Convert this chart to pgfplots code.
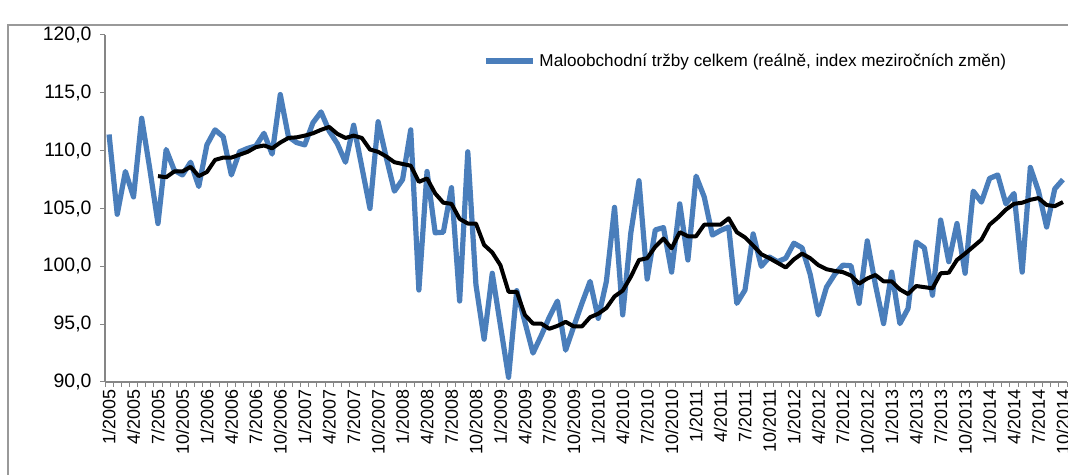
\documentclass[border=0pt]{standalone}
\usepackage{pgfplots}
\pgfplotsset{compat=1.18}
\usepackage{pgfplotstable}
\usepackage{fontspec}
\setmainfont{Liberation Sans}
\definecolor{serblue}{HTML}{4A7EBB}
\definecolor{axgray}{HTML}{868686}
\pgfplotstableread{
i v
0 111.4
1 104.5
2 108.2
3 106.0
4 112.8
5 108.4
6 103.7
7 110.1
8 108.3
9 107.9
10 109.0
11 106.9
12 110.5
13 111.8
14 111.2
15 107.9
16 109.9
17 110.2
18 110.4
19 111.5
20 109.7
21 114.85
22 111.2
23 110.7
24 110.5
25 112.4
26 113.35
27 111.7
28 110.6
29 109.0
30 112.2
31 108.6
32 105.0
33 112.5
34 109.4
35 106.5
36 107.5
37 111.8
38 97.95
39 108.2
40 102.9
41 102.95
42 106.8
43 97.0
44 109.9
45 98.4
46 93.7
47 99.4
48 94.9
49 90.4
50 97.9
51 95.2
52 92.5
53 94.0
54 95.6
55 97.0
56 92.75
57 94.8
58 96.8
59 98.7
60 95.5
61 98.7
62 105.1
63 95.8
64 102.9
65 107.4
66 98.9
67 103.15
68 103.35
69 99.5
70 105.4
71 100.55
72 107.8
73 106.0
74 102.7
75 103.1
76 103.4
77 96.8
78 97.95
79 102.8
80 100.0
81 100.8
82 100.4
83 100.7
84 102.0
85 101.6
86 99.3
87 95.8
88 98.2
89 99.3
90 100.1
91 100.05
92 96.8
93 102.2
94 98.4
95 95.05
96 99.5
97 95.05
98 96.35
99 102.1
100 101.6
101 97.5
102 104.0
103 100.4
104 103.7
105 99.4
106 106.5
107 105.55
108 107.6
109 107.9
110 105.4
111 106.3
112 99.5
113 108.55
114 106.5
115 103.4
116 106.7
117 107.5
}\blue
\pgfplotstableread{
i v
6 107.8
7 107.7
8 108.2
9 108.2
10 108.6
11 107.8
12 108.15
13 109.2
14 109.4
15 109.4
16 109.65
17 109.9
18 110.3
19 110.45
20 110.2
21 110.7
22 111.1
23 111.15
24 111.3
25 111.5
26 111.8
27 112.05
28 111.45
29 111.1
30 111.3
31 111.1
32 110.1
33 109.9
34 109.5
35 109.0
36 108.85
37 108.7
38 107.3
39 107.6
40 106.3
41 105.5
42 105.4
43 104.1
44 103.7
45 103.7
46 101.85
47 101.2
48 100.1
49 97.8
50 97.8
51 95.8
52 95.05
53 95.05
54 94.6
55 94.85
56 95.2
57 94.8
58 94.8
59 95.6
60 95.9
61 96.4
62 97.4
63 97.9
64 99.1
65 100.55
66 100.7
67 101.7
68 102.4
69 101.55
70 102.95
71 102.6
72 102.6
73 103.6
74 103.6
75 103.6
76 104.15
77 102.95
78 102.5
79 101.8
80 101.05
81 100.7
82 100.3
83 99.9
84 100.6
85 101.1
86 100.7
87 100.1
88 99.75
89 99.6
90 99.5
91 99.2
92 98.5
93 98.95
94 99.25
95 98.7
96 98.7
97 98.0
98 97.6
99 98.3
100 98.2
101 98.1
102 99.4
103 99.45
104 100.55
105 101.1
106 101.7
107 102.3
108 103.6
109 104.2
110 104.9
111 105.4
112 105.5
113 105.75
114 105.9
115 105.3
116 105.2
117 105.55
}\avg
\begin{document}
\begin{tikzpicture}[x=1bp,y=1bp]
\useasboundingbox (0,0) rectangle (1068,475);
\draw[color=black!40, line width=1.2bp] (8,0) -- (8,450) -- (1068,450);
\begin{axis}[
  at={(105bp,93bp)}, anchor=south west,
  scale only axis, width=962bp, height=347bp,
  xmin=-0.5, xmax=117.5, ymin=90, ymax=120,
  axis x line=bottom, axis y line=left,
  axis line style={-, draw=axgray, line width=1.3bp},
  ytick={90,95,...,120},
  xtick={0,3,...,117},
  xticklabels={1/2005,4/2005,7/2005,10/2005,1/2006,4/2006,7/2006,10/2006,1/2007,4/2007,7/2007,10/2007,1/2008,4/2008,7/2008,10/2008,1/2009,4/2009,7/2009,10/2009,1/2010,4/2010,7/2010,10/2010,1/2011,4/2011,7/2011,10/2011,1/2012,4/2012,7/2012,10/2012,1/2013,4/2013,7/2013,10/2013,1/2014,4/2014,7/2014,10/2014},
  minor xtick={-0.5,0.5,...,117.5},
  tick align=outside,
  x tick style={draw=none},
  minor x tick style={draw=axgray, line width=1bp},
  y tick style={draw=axgray, line width=1bp},
  major tick length=5bp, minor tick length=5bp,
  x tick label style={rotate=90, anchor=east, font=\fontsize{18}{21}\selectfont, inner sep=2bp},
  y tick label style={font=\fontsize{19.5}{22}\selectfont, xshift=-5bp},
  /pgf/number format/.cd, fixed, fixed zerofill, precision=1, use comma, assume math mode=true,
  /pgfplots/.cd,
  legend style={at={(0.393,0.925)}, anchor=west, draw=none, fill=none, inner sep=0pt,
    font=\fontsize{17.2}{20}\selectfont, nodes={inner xsep=4bp}},
  legend cell align=left,
  legend image code/.code={\draw[#1] (0bp,0bp) -- (47bp,0bp);},
  clip=false,
]
\addplot[color=serblue, line width=5.2bp, line join=round] table[x=i,y=v]{\blue};
\addlegendentry{Maloobchodní tržby celkem (reálně, index meziročních změn)}
\addplot[color=black, line width=4bp, line join=round, forget plot] table[x=i,y=v]{\avg};
\end{axis}
\end{tikzpicture}
\end{document}
